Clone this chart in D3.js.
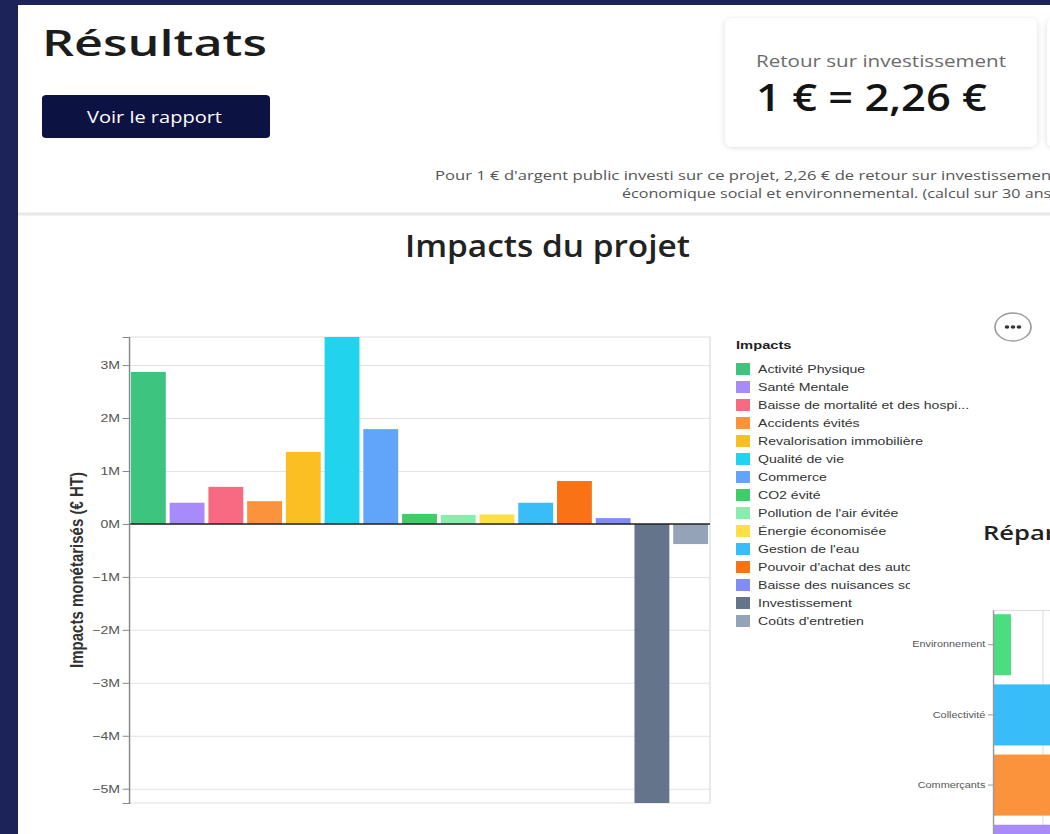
<!DOCTYPE html>
<html lang="fr">
<head>
<meta charset="utf-8">
<title>Résultats</title>
<script src="https://cdn.jsdelivr.net/npm/d3@7"></script>
<style>
  body { margin: 0; background: #1b2359; overflow: hidden; }
  svg { display: block; }
</style>
</head>
<body>
<div id="container"></div>
<script>
/* DATA */
const impacts = ["Activité Physique", "Santé Mentale", "Baisse de mortalité et des hospitalisations",
  "Accidents évités", "Revalorisation immobilière", "Qualité de vie", "Commerce", "CO2 évité",
  "Pollution de l'air évitée", "Énergie économisée", "Gestion de l'eau",
  "Pouvoir d'achat des automobilistes", "Baisse des nuisances sonores", "Investissement", "Coûts d'entretien"];
const values = [2.87e6, 0.40e6, 0.70e6, 0.43e6, 1.36e6, 3.53e6, 1.79e6, 0.19e6,
  0.17e6, 0.18e6, 0.40e6, 0.81e6, 0.11e6, -5.27e6, -0.38e6];
const colors = ["#3dc47e", "#a78bfa", "#f76a82", "#fb923c", "#fbbf24", "#22d3ee", "#60a5fa", "#40cc66",
  "#86efac", "#fde047", "#38bdf8", "#f97316", "#818cf8", "#64748b", "#94a3b8"];
const yTicks = [3e6, 2e6, 1e6, 0, -1e6, -2e6, -3e6, -4e6, -5e6];

const groups = ["Environnement", "Collectivité", "Commerçants", "Usagers"];
const groupValues = [0.36e6, 4.2e6, 2.6e6, 3.9e6];
const groupColors = ["#4ade80", "#38bdf8", "#fb923c", "#a78bfa"];
const groupTicks = [0, 1e6, 2e6];

/* CONSTANTS AND GLOBALS */
const width = 1050;
const height = 834;
const SX = 1.28;              // the screenshot is stretched sideways
const X = x => x / SX;        // page px -> inner units
const round = "'Open Sans', 'Noto Sans', sans-serif";
const vega = "'Liberation Sans', Arial, sans-serif";

const svg = d3.select("#container")
  .append("svg")
  .attr("width", width)
  .attr("height", height);

const defs = svg.append("defs");
defs.append("filter").attr("id", "shadow")
  .attr("x", -0.1).attr("y", -0.2).attr("width", 1.2).attr("height", 1.4)
  .append("feDropShadow")
  .attr("dx", 0).attr("dy", 1).attr("stdDeviation", 2.5)
  .attr("flood-color", "#000").attr("flood-opacity", 0.13);

const legendClip = defs.append("clipPath").attr("id", "legend-clip");
legendClip.append("rect").attr("x", 0).attr("y", 0).attr("width", X(width)).attr("height", 520);
legendClip.append("rect").attr("x", 0).attr("y", 0).attr("width", X(910)).attr("height", height);

const page = svg.append("g").attr("transform", `scale(${SX},1)`);

// white page on the navy frame
page.append("rect")
  .attr("x", X(18)).attr("y", 5)
  .attr("width", X(width - 18)).attr("height", height - 5)
  .attr("fill", "white");

/* HEADER */
page.append("text")
  .attr("x", X(42)).attr("y", 56)
  .attr("font-family", round).attr("font-weight", 600).attr("font-size", 36)
  .attr("fill", "#1c1c1c")
  .attr("textLength", X(225)).attr("lengthAdjust", "spacingAndGlyphs")
  .text("Résultats");

page.append("rect")
  .attr("x", X(42)).attr("y", 95)
  .attr("width", X(228)).attr("height", 43)
  .attr("rx", 3.5)
  .attr("fill", "#0c1242");

page.append("text")
  .attr("x", X(87)).attr("y", 123)
  .attr("font-family", round).attr("font-weight", 500).attr("font-size", 16)
  .attr("fill", "white")
  .attr("textLength", X(135)).attr("lengthAdjust", "spacingAndGlyphs")
  .text("Voir le rapport");

// cards
page.append("rect")
  .attr("x", X(1047)).attr("y", 18)
  .attr("width", X(300)).attr("height", 129)
  .attr("rx", 6)
  .attr("fill", "white").attr("filter", "url(#shadow)");

page.append("rect")
  .attr("x", X(725)).attr("y", 18)
  .attr("width", X(312)).attr("height", 129)
  .attr("rx", 6)
  .attr("fill", "white").attr("filter", "url(#shadow)");

page.append("text")
  .attr("x", X(756)).attr("y", 67)
  .attr("font-family", round).attr("font-size", 16)
  .attr("fill", "#6b6b6b")
  .attr("textLength", X(250)).attr("lengthAdjust", "spacingAndGlyphs")
  .text("Retour sur investissement");

page.append("text")
  .attr("x", X(756)).attr("y", 111)
  .attr("font-family", round).attr("font-weight", 600).attr("font-size", 38)
  .attr("fill", "#141414")
  .attr("textLength", X(231)).attr("lengthAdjust", "spacingAndGlyphs")
  .text("1 € = 2,26 €");

page.append("text")
  .attr("x", X(435)).attr("y", 180)
  .attr("font-family", round).attr("font-size", 13)
  .attr("fill", "#555")
  .attr("textLength", X(622)).attr("lengthAdjust", "spacingAndGlyphs")
  .text("Pour 1 € d'argent public investi sur ce projet, 2,26 € de retour sur investissement");

page.append("text")
  .attr("x", X(622)).attr("y", 198)
  .attr("font-family", round).attr("font-size", 13)
  .attr("fill", "#555")
  .attr("textLength", X(434)).attr("lengthAdjust", "spacingAndGlyphs")
  .text("économique social et environnemental. (calcul sur 30 ans)");

page.append("line")
  .attr("x1", X(18)).attr("x2", X(width))
  .attr("y1", 214).attr("y2", 214)
  .attr("stroke", "#e8e8e8").attr("stroke-width", 3);

page.append("text")
  .attr("x", X(405)).attr("y", 257)
  .attr("font-family", round).attr("font-weight", 600).attr("font-size", 30)
  .attr("fill", "#222")
  .attr("textLength", X(285)).attr("lengthAdjust", "spacingAndGlyphs")
  .text("Impacts du projet");

/* SCALES */
const plot = { left: 129, right: 710, top: 337, bottom: 803 };

const xScale = d3.scaleBand()
  .domain(impacts)
  .range([X(plot.left), X(plot.right)])
  .paddingInner(0.1)
  .paddingOuter(0.05);

const yScale = d3.scaleLinear()
  .domain([d3.min(values), d3.max(values)])
  .range([plot.bottom, plot.top]);

const colorScale = d3.scaleOrdinal()
  .domain(impacts)
  .range(colors);

const fmtM = d => d3.format("d")(d / 1e6) + "M";

/* CHART */
const chart = page.append("g").attr("font-family", vega);

chart.append("g")
  .selectAll("line")
  .data(yTicks)
  .join("line")
  .attr("x1", X(plot.left)).attr("x2", X(plot.right))
  .attr("y1", d => yScale(d) + 0.5).attr("y2", d => yScale(d) + 0.5)
  .attr("stroke", "#e3e3e3");

chart.append("rect")
  .attr("x", X(plot.left)).attr("y", plot.top)
  .attr("width", X(plot.right - plot.left)).attr("height", plot.bottom - plot.top)
  .attr("fill", "none").attr("stroke", "#dddddd");

chart.selectAll("rect.bar")
  .data(impacts)
  .join("rect")
  .attr("class", "bar")
  .attr("x", d => xScale(d))
  .attr("width", xScale.bandwidth())
  .attr("y", (d, i) => Math.min(yScale(values[i]), yScale(0)))
  .attr("height", (d, i) => Math.abs(yScale(values[i]) - yScale(0)))
  .attr("fill", d => colorScale(d));

chart.append("line")
  .attr("x1", X(plot.left)).attr("x2", X(plot.right))
  .attr("y1", yScale(0)).attr("y2", yScale(0))
  .attr("stroke", "#222").attr("stroke-width", 1.5);

const yAxis = chart.append("g")
  .attr("transform", `translate(${X(plot.left)},0)`)
  .call(d3.axisLeft(yScale).tickValues(yTicks).tickFormat(fmtM).tickSize(5).tickPadding(2));
yAxis.select(".domain").attr("stroke", "#888");
yAxis.selectAll(".tick line").attr("stroke", "#888");
yAxis.selectAll(".tick text")
  .attr("font-family", vega).attr("font-size", 11).attr("fill", "#555");

chart.append("text")
  .attr("transform", `translate(${X(83)},${(plot.top + plot.bottom) / 2}) rotate(-90)`)
  .attr("text-anchor", "middle")
  .attr("font-weight", 700).attr("font-size", 15)
  .attr("fill", "#333")
  .text("Impacts monétarisés (€ HT)");

/* LEGEND */
const legend = chart.append("g").attr("clip-path", "url(#legend-clip)");

legend.append("text")
  .attr("x", X(736)).attr("y", 349)
  .attr("font-weight", 700).attr("font-size", 11.5)
  .attr("fill", "#222")
  .text("Impacts");

const rows = legend.selectAll("g.row")
  .data(impacts)
  .join("g")
  .attr("class", "row")
  .attr("transform", (d, i) => `translate(${X(736)},${369 + i * 18})`);

rows.append("rect")
  .attr("x", 0).attr("y", -6)
  .attr("width", X(14)).attr("height", 12)
  .attr("fill", d => colorScale(d));

rows.append("text")
  .attr("x", X(758 - 736)).attr("y", 4)
  .attr("font-size", 11)
  .attr("fill", "#333")
  .each(function (d) {
    const t = d3.select(this).text(d);
    let s = d;
    while (this.getComputedTextLength() > 168 && s.length > 1) {
      s = s.slice(0, -1);
      t.text(s.trimEnd() + "...");
    }
  });

// actions button
page.append("ellipse")
  .attr("cx", X(1013)).attr("cy", 327)
  .attr("rx", X(18)).attr("ry", 14)
  .attr("fill", "white").attr("stroke", "#9a9a9a").attr("stroke-width", 1.3);
page.selectAll("circle.dot")
  .data([-6, 0, 6])
  .join("circle")
  .attr("class", "dot")
  .attr("cx", d => X(1013 + d)).attr("cy", 327)
  .attr("r", 1.8)
  .attr("fill", "#333");

/* SECOND CHART */
page.append("text")
  .attr("x", X(983)).attr("y", 540)
  .attr("font-family", round).attr("font-weight", 600).attr("font-size", 20)
  .attr("fill", "#222")
  .text("Répartition des impacts");

const xScale2 = d3.scaleLinear()
  .domain([0, 1e6])
  .range([X(993), X(1043)]);

const yScale2 = d3.scaleBand()
  .domain(groups)
  .range([610, 890])
  .paddingInner(0.13)
  .paddingOuter(0.06);

const chart2 = page.append("g").attr("font-family", vega);

chart2.selectAll("line.grid")
  .data(groupTicks)
  .join("line")
  .attr("class", "grid")
  .attr("x1", d => xScale2(d)).attr("x2", d => xScale2(d))
  .attr("y1", 610).attr("y2", height)
  .attr("stroke", "#e3e3e3");

chart2.append("line")
  .attr("x1", X(993)).attr("x2", X(width))
  .attr("y1", 610.5).attr("y2", 610.5)
  .attr("stroke", "#dddddd");

chart2.selectAll("rect.bar")
  .data(groups)
  .join("rect")
  .attr("class", "bar")
  .attr("x", xScale2(0))
  .attr("y", d => yScale2(d))
  .attr("width", (d, i) => xScale2(groupValues[i]) - xScale2(0))
  .attr("height", yScale2.bandwidth())
  .attr("fill", (d, i) => groupColors[i]);

const yAxis2 = chart2.append("g")
  .attr("transform", `translate(${X(993)},0)`)
  .call(d3.axisLeft(yScale2).tickSize(4).tickPadding(2).tickSizeOuter(0));
yAxis2.select(".domain").attr("stroke", "#999");
yAxis2.selectAll(".tick line").attr("stroke", "#999");
yAxis2.selectAll(".tick text")
  .attr("font-family", vega).attr("font-size", 8.5).attr("fill", "#555");
</script>
</body>
</html>
